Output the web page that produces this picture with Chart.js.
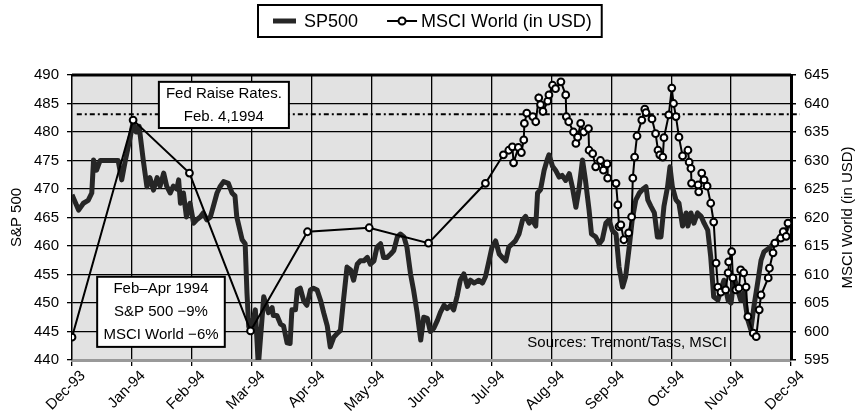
<!DOCTYPE html>
<html>
<head>
<meta charset="utf-8">
<script src="https://cdn.jsdelivr.net/npm/chart.js@4.4.0/dist/chart.umd.min.js"></script>
<style>
  html, body { margin: 0; padding: 0; background: #fff; }
  #wrap { width: 859px; height: 419px; position: relative; }
</style>
</head>
<body>
<div id="wrap"><canvas id="grafico"></canvas></div>
<script>
// --- DADOS ---
const mesesLabels = ['Dec-93', 'Jan-94', 'Feb-94', 'Mar-94', 'Apr-94', 'May-94', 'Jun-94',
  'Jul-94', 'Aug-94', 'Sep-94', 'Oct-94', 'Nov-94', 'Dec-94'];

// posição em meses desde Dec-93
const spMeses = [0.00,0.11,0.19,0.27,0.33,0.36,0.41,0.47,0.58,0.69,0.77,0.83,0.89,0.97,1.02,1.07,1.12,1.19,1.25,1.30,
  1.36,1.42,1.47,1.53,1.58,1.64,1.69,1.75,1.78,1.81,1.86,1.91,1.97,2.03,2.08,2.14,2.19,2.25,2.31,2.36,
  2.42,2.47,2.53,2.61,2.67,2.72,2.75,2.84,2.89,2.92,2.95,3.00,3.06,3.11,3.20,3.28,3.34,3.36,3.42,3.48,
  3.53,3.59,3.64,3.67,3.73,3.76,3.81,3.87,3.92,3.98,4.03,4.09,4.15,4.20,4.26,4.31,4.37,4.42,4.48,4.53,
  4.59,4.65,4.70,4.76,4.81,4.87,4.93,4.98,5.04,5.09,5.15,5.20,5.26,5.32,5.37,5.43,5.48,5.54,5.59,5.65,
  5.70,5.76,5.82,5.87,5.93,5.98,6.04,6.10,6.15,6.21,6.26,6.32,6.37,6.43,6.48,6.54,6.60,6.65,6.71,6.79,
  6.85,6.90,6.96,7.01,7.07,7.13,7.18,7.24,7.29,7.35,7.40,7.46,7.52,7.57,7.63,7.68,7.74,7.77,7.82,7.88,
  7.93,7.96,8.02,8.07,8.13,8.18,8.24,8.30,8.35,8.41,8.46,8.52,8.57,8.63,8.67,8.74,8.80,8.85,8.91,8.96,
  9.02,9.08,9.13,9.19,9.24,9.30,9.35,9.41,9.47,9.52,9.58,9.61,9.66,9.72,9.77,9.83,9.88,9.94,9.98,10.02,
  10.08,10.13,10.19,10.25,10.28,10.33,10.38,10.44,10.50,10.55,10.61,10.66,10.71,10.78,10.83,10.88,10.95,11.00,11.05,11.11,
  11.16,11.21,11.28,11.33,11.38,11.45,11.50,11.55,11.63,11.72,11.83,11.92,11.97];

const spValores = [469.0,466.3,467.5,468.0,469.3,475.1,473.3,475.0,475.0,475.0,475.0,471.6,475.0,479.0,481.7,480.0,481.0,475.0,470.4,472.0,
  469.8,472.0,470.5,472.8,470.5,469.3,470.5,470.0,471.6,467.5,469.3,465.1,467.5,464.0,464.6,465.1,465.8,464.6,465.1,467.0,
  469.3,470.4,471.3,471.0,469.3,468.8,465.1,461.1,460.4,451.8,445.8,446.0,448.8,439.0,451.1,448.3,449.2,447.8,447.8,446.3,
  446.0,443.0,442.9,448.8,448.8,452.3,452.6,450.3,449.6,452.3,452.6,452.3,450.4,448.3,446.0,442.3,444.0,444.6,445.2,450.4,
  456.3,455.8,454.0,456.8,457.4,457.4,458.0,456.8,457.4,459.8,460.4,458.0,458.0,458.6,459.2,461.6,462.1,461.6,459.8,455.1,
  452.3,448.3,443.5,447.5,447.3,445.0,445.6,447.0,448.4,449.6,449.0,449.6,448.8,451.3,454.0,455.1,452.9,454.0,453.5,454.0,
  453.5,454.6,457.4,459.8,460.9,458.6,458.0,457.4,459.8,460.4,460.9,462.1,464.6,465.2,464.0,464.6,463.5,469.3,469.9,473.3,
  475.1,476.0,474.0,473.3,472.1,472.4,471.5,472.7,470.4,466.8,469.9,475.1,471.5,466.3,462.1,461.6,460.4,461.1,464.0,464.6,
  462.7,462.1,456.3,452.8,454.6,459.8,464.6,468.1,469.3,469.9,470.4,468.1,467.0,465.8,461.6,461.6,467.0,470.4,473.9,470.4,
  468.1,467.5,463.5,465.8,463.5,465.8,464.0,465.8,465.2,464.0,462.8,458.1,451.1,450.5,452.3,454.0,450.5,450.0,454.6,452.3,
  450.5,451.8,447.0,445.3,449.3,454.0,457.5,459.0,459.6,460.5,461.6,462.8,464.0];

const msciMeses = [0,1.02,1.96,2.98,3.93,4.96,5.95,6.90,7.20,7.29,7.35,7.37,7.45,7.50,7.54,7.55,7.59,7.69,7.74,7.79,
  7.82,7.86,7.94,7.96,8.02,8.07,8.16,8.24,8.25,8.29,8.37,8.41,8.44,8.49,8.54,8.62,8.63,8.69,8.74,8.82,
  8.87,8.93,8.94,9.08,9.11,9.13,9.16,9.21,9.29,9.34,9.36,9.39,9.43,9.51,9.56,9.58,9.68,9.74,9.78,9.81,
  9.86,9.88,9.96,10.01,10.04,10.08,10.13,10.19,10.28,10.30,10.33,10.34,10.45,10.46,10.51,10.55,10.60,10.66,10.71,10.75,
  10.78,10.83,10.91,10.95,10.96,11.01,11.03,11.08,11.13,11.16,11.21,11.25,11.28,11.37,11.42,11.47,11.50,11.62,11.64,11.70,
  11.73,11.83,11.87,11.92,11.95];

const msciValores = [599,637.1,627.8,600.1,617.5,618.2,615.5,626,631,631.8,632.4,629.6,632.3,631.4,633.6,636.5,638.3,637.7,636.8,641,
  639.8,638.6,640.4,641.5,643.2,642.6,643.8,641.5,637.7,636.8,635,633,634.1,636.5,635,635.6,631.8,631.2,628.9,630,
  628.3,629.4,626.9,626,622.2,618.4,618.7,616.1,617.3,620.1,626.9,630.6,634.3,637.1,639,638.4,637.3,634.7,631.8,631,
  630.6,634,638,642.7,640,637.7,634.1,630.8,631.8,629.7,628.6,626,625.7,624.5,627.8,626.6,625.5,622.5,619.2,612,
  607.8,606.9,607.3,610.3,612.2,614,609.4,607.3,607.6,610.8,610.3,607.8,602.6,599.7,599.1,603.8,606.4,609.4,611.1,613.8,
  615.5,616.4,617.5,616.7,619];

const nivelFed = 638.1; // linha pontilhada (eixo MSCI)

const FONTE = "'Liberation Sans', Arial, Helvetica, sans-serif";
Chart.defaults.font.family = FONTE;
Chart.defaults.font.size = 15;
Chart.defaults.color = '#000';

// --- PLUGIN: fundo, anotações, legenda ---
const decoracao = {
  id: 'decoracao',
  beforeDraw(chart) {
    const { ctx, chartArea: a } = chart;
    ctx.save();
    ctx.fillStyle = '#e2e2e2';
    ctx.fillRect(a.left, a.top, a.right - a.left, a.bottom - a.top);
    ctx.restore();
  },
  beforeDatasetsDraw(chart) {
    const { ctx, chartArea: a, scales } = chart;
    ctx.save();
    // linha pontilhada da alta de juros
    const yFed = scales.y1.getPixelForValue(nivelFed);
    ctx.strokeStyle = '#000';
    ctx.lineWidth = 2;
    ctx.setLineDash([5, 3, 2, 3]);
    ctx.beginPath();
    ctx.moveTo(scales.x.getPixelForValue(0.08), yFed);
    ctx.lineTo(a.right + 9, yFed);
    ctx.stroke();
    ctx.setLineDash([]);
    // fonte
    ctx.font = `15px ${FONTE}`;
    ctx.fillStyle = '#000';
    ctx.textAlign = 'left';
    ctx.textBaseline = 'middle';
    ctx.fillText('Sources: Tremont/Tass, MSCI', scales.x.getPixelForValue(7.6), scales.y.getPixelForValue(443.0));
    ctx.restore();
  },
  afterDatasetsDraw(chart) {
    const { ctx, scales } = chart;
    const caixa = (x0, x1, y0, y1, linhas) => {
      const l = scales.x.getPixelForValue(x0), r = scales.x.getPixelForValue(x1);
      const t = scales.y.getPixelForValue(y0), b = scales.y.getPixelForValue(y1);
      ctx.fillStyle = '#fff';
      ctx.fillRect(l, t, r - l, b - t);
      ctx.strokeStyle = '#000';
      ctx.lineWidth = 2;
      ctx.strokeRect(l, t, r - l, b - t);
      ctx.fillStyle = '#000';
      ctx.font = `15px ${FONTE}`;
      ctx.textAlign = 'center';
      ctx.textBaseline = 'middle';
      const passo = (b - t) / linhas.length;
      linhas.forEach((txt, i) => ctx.fillText(txt, (l + r) / 2, t + passo * (i + 0.5)));
    };
    ctx.save();
    caixa(1.45, 3.62, 488.8, 480.7, ['Fed Raise Rates.', 'Feb. 4,1994']);
    caixa(0.42, 2.55, 454.6, 442.3, ['Feb\u2013Apr 1994', 'S&P 500 \u22129%', 'MSCI World \u22126%']);
    ctx.restore();
  },
  afterDraw(chart) {
    const { ctx, chartArea: a, width } = chart;
    ctx.save();
    // borda superior
    ctx.strokeStyle = '#000';
    ctx.lineWidth = 3;
    ctx.beginPath();
    ctx.moveTo(a.left, a.top);
    ctx.lineTo(a.right, a.top);
    ctx.stroke();

    // título do eixo direito (de baixo para cima)
    ctx.font = `15px ${FONTE}`;
    ctx.fillStyle = '#000';
    ctx.textAlign = 'center';
    ctx.textBaseline = 'middle';
    ctx.translate(848, (a.top + a.bottom) / 2);
    ctx.rotate(-Math.PI / 2);
    ctx.fillText('MSCI World (in USD)', 0, 0);
    ctx.setTransform(1, 0, 0, 1, 0, 0);

    // legenda
    const [msci, sp] = chart.data.datasets;
    ctx.font = `18px ${FONTE}`;
    const wSp = ctx.measureText(sp.label).width;
    const wMsci = ctx.measureText(msci.label).width;
    const total = 15 + 23 + 8 + wSp + 29 + 30 + 4 + wMsci + 10;
    const x0 = Math.round(width / 2 - total / 2);
    const yTop = 5, yMid = 21, h = 32;
    ctx.lineWidth = 2;
    ctx.strokeStyle = '#000';
    ctx.fillStyle = '#fff';
    ctx.fillRect(x0, yTop, total, h);
    ctx.strokeRect(x0, yTop, total, h);
    let x = x0 + 15;
    ctx.strokeStyle = sp.borderColor;
    ctx.lineWidth = 5;
    ctx.beginPath(); ctx.moveTo(x, yMid); ctx.lineTo(x + 23, yMid); ctx.stroke();
    x += 31;
    ctx.fillStyle = '#000';
    ctx.textAlign = 'left';
    ctx.fillText(sp.label, x, yMid + 1);
    x += wSp + 29;
    ctx.strokeStyle = '#000';
    ctx.lineWidth = 2;
    ctx.beginPath(); ctx.moveTo(x, yMid); ctx.lineTo(x + 30, yMid); ctx.stroke();
    ctx.beginPath(); ctx.arc(x + 15, yMid, 3.5, 0, Math.PI * 2);
    ctx.fillStyle = '#fff'; ctx.fill(); ctx.stroke();
    x += 34;
    ctx.fillStyle = '#000';
    ctx.fillText(msci.label, x, yMid + 1);
    ctx.restore();
  }
};

const PAD = { top: 75, left: 6, right: 8, bottom: 0 };

new Chart(document.getElementById('grafico'), {
  type: 'line',
  data: {
    datasets: [
      {
        label: 'MSCI World (in USD)',
        data: msciMeses.map((m, i) => ({ x: m, y: msciValores[i] })),
        yAxisID: 'y1',
        borderColor: '#000',
        borderWidth: 2,
        pointRadius: 3.4,
        pointBorderWidth: 2,
        pointBackgroundColor: '#fff',
        pointBorderColor: '#000',
        tension: 0,
        order: 1
      },
      {
        label: 'SP500',
        data: spMeses.map((m, i) => ({ x: m, y: spValores[i] })),
        yAxisID: 'y',
        borderColor: '#262626',
        borderWidth: 5,
        borderJoinStyle: 'round',
        pointRadius: 0,
        tension: 0,
        order: 2
      }
    ]
  },
  options: {
    responsive: true,
    maintainAspectRatio: false,
    animation: false,
    layout: { padding: PAD },
    plugins: { legend: { display: false }, tooltip: { enabled: false } },
    scales: {
      x: {
        type: 'linear',
        min: 0,
        max: 12,
        afterBuildTicks: s => { s.ticks = mesesLabels.map((_, i) => ({ value: i })); },
        afterFit: s => { s.height = 419 - 360 - PAD.bottom; },
        ticks: {
          autoSkip: false,
          maxRotation: 45,
          minRotation: 45,
          labelOffset: 11,
          padding: 1,
          font: { size: 15 },
          callback: v => mesesLabels[v]
        },
        grid: { color: '#000', lineWidth: 1.3, tickLength: 6, tickColor: '#000' },
        border: { display: true, color: '#999', width: 3 }
      },
      y: {
        position: 'left',
        min: 440,
        max: 490,
        afterFit: s => { s.width = 72 - PAD.left; },
        ticks: { stepSize: 5, padding: 8 },
        grid: { color: '#000', lineWidth: 1.3, tickLength: 5, tickColor: '#000' },
        border: { display: true, color: '#000', width: 1.3 },
        title: { display: true, text: 'S&P 500', font: { size: 15 }, padding: { top: 2, bottom: 0 } }
      },
      y1: {
        position: 'right',
        min: 595,
        max: 645,
        afterFit: s => { s.width = 859 - 791 - PAD.right; },
        ticks: { stepSize: 5, padding: 8 },
        grid: { drawOnChartArea: false, color: '#000', tickLength: 5, lineWidth: 1.5 },
        border: { display: true, color: '#000', width: 3 }
      }
    }
  },
  plugins: [decoracao]
});
</script>
</body>
</html>
